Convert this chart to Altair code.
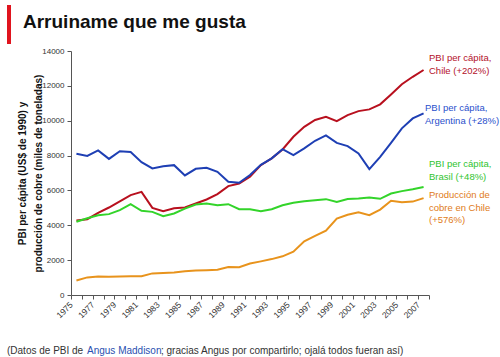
import altair as alt
import pandas as pd

years = list(range(1975, 2008))
chile = [4280, 4350, 4710, 5020, 5370, 5730, 5920, 5000, 4810, 4980, 5020,
         5250, 5480, 5790, 6250, 6400, 6780, 7450, 7840, 8350, 9080, 9650,
         10040, 10230, 9980, 10320, 10550, 10650, 10940, 11510, 12090, 12520, 12910]
argentina = [8100, 7980, 8300, 7810, 8250, 8200, 7620, 7260, 7390, 7450, 6860,
             7240, 7300, 7070, 6500, 6440, 6880, 7470, 7840, 8370, 8030, 8410,
             8850, 9160, 8730, 8540, 8120, 7220, 7930, 8730, 9560, 10130, 10420]
brasil = [4200, 4400, 4580, 4640, 4870, 5210, 4830, 4770, 4520, 4680, 4960,
          5190, 5250, 5150, 5210, 4920, 4920, 4810, 4920, 5150, 5290, 5380,
          5440, 5500, 5340, 5510, 5540, 5600, 5520, 5820, 5960, 6070, 6200]
cobre = [830, 1010, 1060, 1050, 1060, 1070, 1080, 1240, 1260, 1290, 1360,
         1400, 1420, 1450, 1610, 1590, 1810, 1930, 2060, 2220, 2490, 3080,
         3390, 3690, 4390, 4600, 4740, 4580, 4900, 5410, 5320, 5360, 5560]

series = ["Chile", "Argentina", "Brasil", "Cobre"]
colors = ["#b8101e", "#1e3fb4", "#33d42a", "#e8931c"]
label_colors = ["#b3102a", "#2a4fcc", "#2fc42f", "#e07b20"]
y_ticks = [0, 2000, 4000, 6000, 8000, 10000, 12000, 14000]
boundaries = [y - 0.5 for y in years] + [years[-1] + 0.5]

title = "Arruiname que me gusta"
y_title = ["PBI per cápita (US$ de 1990) y", "producción de cobre (miles de toneladas)"]
labels = {
    "Chile": ["PBI per cápita,", "Chile (+202%)"],
    "Argentina": ["PBI per cápita,", "Argentina (+28%)"],
    "Brasil": ["PBI per cápita,", "Brasil (+48%)"],
    "Cobre": ["Producción de", "cobre en Chile", "(+576%)"],
}
footer = ["(Datos de PBI de ", "Angus Maddison", "; gracias Angus por compartirlo; ojalá todos fueran así)"]

rows = []
for name, vals in zip(series, [chile, argentina, brasil, cobre]):
    for yr, v in zip(years, vals):
        rows.append({"year": yr, "value": v, "serie": name})
df = pd.DataFrame(rows)
one = pd.DataFrame({"k": [0]})

W, H = 358, 244
FONT = "Liberation Sans"

x_scale = alt.Scale(domain=[boundaries[0], boundaries[-1]], nice=False, zero=False)
y_scale = alt.Scale(domain=[0, 14000], nice=False)

x_axis = alt.Axis(
    values=boundaries, title=None, grid=False, tickSize=4, tickColor="#555",
    domainColor="#555",
    labelExpr="(datum.value + 0.5) % 2 == 1 ? format(datum.value + 0.5, 'd') : ''",
    labelAngle=-45, labelAlign="right", labelBaseline="top", labelOffset=-3,
    labelPadding=1, labelOverlap=False, labelFlush=False, labelFontSize=8.5,
    labelColor="#333", labelFont=FONT,
)
y_axis = alt.Axis(
    values=y_ticks, format="d", grid=False, tickSize=4, tickColor="#555",
    domainColor="#555", labelFontSize=8, labelColor="#333", labelFont=FONT,
    labelPadding=3, title=y_title, titleFontSize=10, titleFont=FONT,
    titleFontWeight="bold", titleColor="#111", titleX=-49, titleY=H / 2,
    titleAlign="center", titleBaseline="middle", titleAngle=-90, titleLineHeight=16,
)

lines = alt.Chart(df).mark_line(strokeWidth=2).encode(
    x=alt.X("year:Q", scale=x_scale, axis=x_axis),
    y=alt.Y("value:Q", scale=y_scale, axis=y_axis),
    color=alt.Color("serie:N", scale=alt.Scale(domain=series, range=colors), legend=None),
)

layers = [lines]

label_pos = {"Chile": (358, 2), "Argentina": (354, 52), "Brasil": (358, 108), "Cobre": (358, 139)}
for name, col in zip(series, label_colors):
    lx, ly = label_pos[name]
    layers.append(
        alt.Chart(one).mark_text(
            text=labels[name], align="left", baseline="top", fontSize=9.5,
            font=FONT, color=col, lineHeight=12.5,
        ).encode(x=alt.value(lx), y=alt.value(ly))
    )

layers.append(
    alt.Chart(one).mark_text(
        text=title, align="left", baseline="alphabetic", fontSize=19,
        fontWeight="bold", font=FONT, color="#111",
    ).encode(x=alt.value(-48), y=alt.value(-23))
)
layers.append(
    alt.Chart(one).mark_rect(color="#e0141e").encode(
        x=alt.value(-64), x2=alt.value(-60), y=alt.value(-46), y2=alt.value(-7)
    )
)
foot_x = [-64, 16, 90]
foot_c = ["#333", "#2a4fb0", "#333"]
for t, fx, fc in zip(footer, foot_x, foot_c):
    layers.append(
        alt.Chart(one).mark_text(
            text=t, align="left", baseline="alphabetic", fontSize=10,
            font=FONT, color=fc,
        ).encode(x=alt.value(fx), y=alt.value(303))
    )

chart = alt.layer(*layers).properties(
    width=W, height=H,
    autosize=alt.AutoSizeParams(type="none"),
    padding={"left": 71, "top": 51, "right": 71, "bottom": 62},
    background="white",
).configure_view(stroke=None)

chart.save("out.html", embed_options={"renderer": "svg", "actions": False})
